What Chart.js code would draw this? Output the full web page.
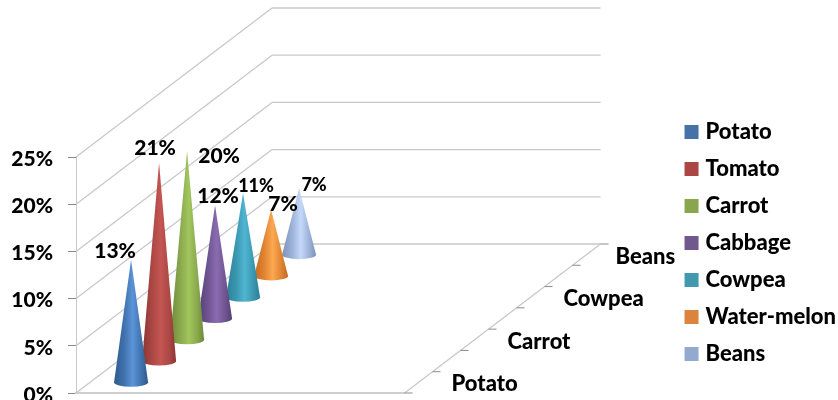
<!DOCTYPE html>
<html>
<head>
<meta charset="utf-8">
<title>Crops</title>
<script src="https://cdn.jsdelivr.net/npm/chart.js@4"></script>
<style>
  html, body { margin: 0; padding: 0; background: #fff; }
  #wrap { width: 838px; height: 400px; }
</style>
</head>
<body>
<div id="wrap"><canvas id="myChart"></canvas></div>
<script>
var crops = ['Potato', 'Tomato', 'Carrot', 'Cabbage', 'Cowpea', 'Water-melon', 'Beans'];
var shares = [13, 21, 20, 12, 11, 7, 7];
var groups = ['', '', '', ''];
var depthLabels = ['Potato', '', 'Carrot', '', 'Cowpea', '', 'Beans'];
var yTicks = [0, 5, 10, 15, 20, 25];

var swatches = ['#4572A7', '#AA4643', '#89A54E', '#71588F', '#4198AF', '#DB843D', '#93A9CF'];
var coneDark = ['#2c5a8e', '#8c3533', '#6c8a38', '#553f74', '#2a7f96', '#c46a1f', '#7c92b8'];
var coneMid = ['#4072ad', '#ab4845', '#8aa84e', '#6f5592', '#3b97b0', '#e08433', '#9db2d8'];
var coneLight = ['#5a94d8', '#c45552', '#a2c65c', '#8a6bb0', '#4fb6d2', '#fca851', '#c4d8fa'];

// manually placed percentage labels, offset from the cone tip
var labelOffsets = [[-16, -8], [-4, -15], [32, 5], [3, -9], [13, -7], [12, -6], [15, -3]];
var labelSizes = [21, 21, 21, 21, 18, 21, 18];
var depthNudge = [0, 0, 0, 0, 0, 0, -4];

var FONT = 'Lato, sans-serif';
var WEIGHT = '900';
var DEPTH_X = 196, DEPTH_Y = -149;
var GRID = '#c8c8c8', TICK = '#8c8c8c';

// the third axis of the box: shifts a front-plane point back by z
function back(chart, z) {
  var s = chart.scales.z;
  var d = (s.getPixelForValue(z) - s.left) / s.width;
  return { x: d * DEPTH_X, y: d * DEPTH_Y };
}

function line(ctx, x1, y1, x2, y2) {
  ctx.beginPath();
  ctx.moveTo(x1, y1);
  ctx.lineTo(x2, y2);
  ctx.stroke();
}

function drawWalls(chart) {
  var ctx = chart.ctx, area = chart.chartArea, y = chart.scales.y;
  var far = back(chart, crops.length);
  ctx.strokeStyle = GRID;
  ctx.lineWidth = 1.3;
  yTicks.forEach(function (t) {
    var py = y.getPixelForValue(t);
    line(ctx, area.left, py, area.left + far.x, py + far.y);
    line(ctx, area.left + far.x, py + far.y, area.right + far.x, py + far.y);
  });
  line(ctx, area.right, area.bottom, area.right + far.x, area.bottom + far.y);

  ctx.strokeStyle = TICK;
  ctx.lineWidth = 1;
  for (var i = 0; i <= crops.length; i++) {
    var p = back(chart, i);
    line(ctx, area.right + p.x, area.bottom + p.y, area.right + p.x + 8, area.bottom + p.y);
  }

  ctx.fillStyle = '#000';
  ctx.font = WEIGHT + ' 22px ' + FONT;
  ctx.textAlign = 'left';
  ctx.textBaseline = 'middle';
  depthLabels.forEach(function (name, i) {
    var c = back(chart, i + 0.5);
    ctx.fillText(name, area.right + c.x + 33 + depthNudge[i], area.bottom + c.y + 2);
  });
}

function drawCone(chart, i) {
  var ctx = chart.ctx, x = chart.scales.x, y = chart.scales.y;
  var off = back(chart, i + 0.5);
  var cx = x.getPixelForValue(0) + off.x;
  var baseY = y.getPixelForValue(0) + off.y;
  var tipY = y.getPixelForValue(shares[i]) + off.y;
  var r = 17;

  var grad = ctx.createLinearGradient(cx - r, 0, cx + r, 0);
  grad.addColorStop(0, coneDark[i]);
  grad.addColorStop(0.3, coneMid[i]);
  grad.addColorStop(0.55, coneLight[i]);
  grad.addColorStop(0.8, coneMid[i]);
  grad.addColorStop(1, coneDark[i]);

  ctx.beginPath();
  ctx.moveTo(cx - r, baseY);
  ctx.lineTo(cx, tipY);
  ctx.lineTo(cx + r, baseY);
  ctx.ellipse(cx, baseY, r, 4.5, 0, 0, Math.PI);
  ctx.closePath();
  ctx.fillStyle = grad;
  ctx.fill();
}

function drawLabel(chart, i) {
  var ctx = chart.ctx, x = chart.scales.x, y = chart.scales.y;
  var off = back(chart, i + 0.5);
  ctx.fillStyle = '#000';
  ctx.font = WEIGHT + ' ' + labelSizes[i] + 'px ' + FONT;
  ctx.textAlign = 'center';
  ctx.textBaseline = 'middle';
  ctx.fillText(shares[i] + '%',
    x.getPixelForValue(0) + off.x + labelOffsets[i][0],
    y.getPixelForValue(shares[i]) + off.y + labelOffsets[i][1]);
}

// bars are replaced by cones inside the box, back row first
var conePlugin = {
  id: 'cones',
  beforeDatasetsDraw: function (chart) {
    var i;
    drawWalls(chart);
    for (i = crops.length - 1; i >= 0; i--) drawCone(chart, i);
    for (i = 0; i < crops.length; i++) drawLabel(chart, i);
    return false;
  }
};

var hidden = { ticks: { display: false }, grid: { display: false }, border: { display: false } };

var ctx = document.getElementById('myChart').getContext('2d');
var myChart = new Chart(ctx, {
  type: 'bar',
  data: {
    labels: groups,
    datasets: crops.map(function (name, i) {
      return {
        label: name,
        data: [shares[i], null, null, null],
        backgroundColor: swatches[i],
        borderColor: swatches[i],
        borderWidth: 8
      };
    })
  },
  plugins: [conePlugin],
  options: {
    responsive: true,
    maintainAspectRatio: false,
    animation: false,
    layout: { padding: { top: 86, right: -8, bottom: 0, left: 0 } },
    plugins: {
      tooltip: { enabled: false },
      legend: {
        position: 'right',
        maxWidth: 220,
        labels: {
          boxWidth: 6,
          boxHeight: 6,
          padding: 15,
          color: '#000',
          font: { family: FONT, size: 22, weight: WEIGHT }
        }
      }
    },
    scales: {
      x: {
        ticks: { display: false },
        grid: { display: false },
        border: { color: '#cfcfcf', width: 2 },
        afterFit: function (s) { s.height = 7; }
      },
      y: {
        min: 0,
        max: 25,
        afterFit: function (s) { s.width = 76; s.paddingBottom = 0; s.paddingTop = 0; },
        afterBuildTicks: function (s) { s.ticks = yTicks.map(function (v) { return { value: v }; }); },
        ticks: {
          padding: 15,
          labelOffset: 2,
          color: '#000',
          font: { family: FONT, size: 21, weight: WEIGHT },
          callback: function (v) { return v + '%'; }
        },
        grid: { drawOnChartArea: false, tickLength: 8, tickColor: TICK },
        border: { color: GRID, width: 1 }
      },
      z: Object.assign({
        type: 'linear',
        axis: 'x',
        position: 'top',
        offset: false,
        min: 0,
        max: crops.length,
        afterFit: function (s) { s.height = 71; }
      }, hidden),
      wall: Object.assign({
        type: 'linear',
        axis: 'y',
        position: 'right',
        afterFit: function (s) { s.width = 269; }
      }, hidden)
    }
  }
});
</script>
</body>
</html>
